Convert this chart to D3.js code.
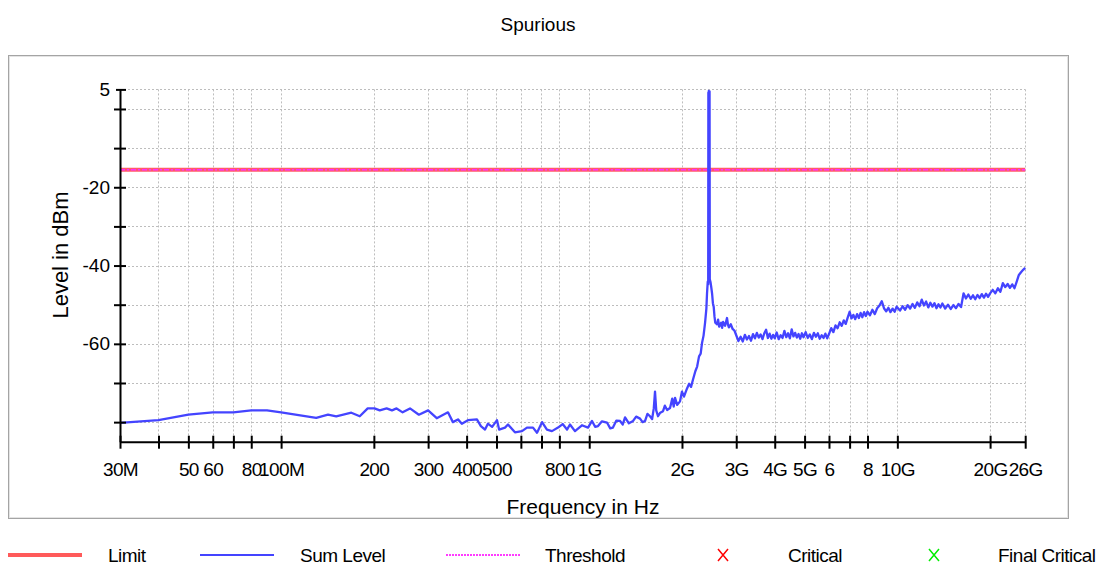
<!DOCTYPE html>
<html>
<head>
<meta charset="utf-8">
<script src="https://d3js.org/d3.v7.min.js"></script>
<style>
    body { margin: 0; background: #fff; }
    text { font-family: "Liberation Sans", Arial, sans-serif; fill: #000; }
</style>
</head>
<body>
<div id="chart"></div>
<script>
// x ticks (MHz) and their labels, empty label = tick only
const xTickValues = [30, 40, 50, 60, 70, 80, 100, 200, 300, 400, 500, 600, 700, 800, 1000,
    2000, 3000, 4000, 5000, 6000, 7000, 8000, 10000, 20000, 26000];
const xTickLabels = ["30M", "", "50", "60", "", "80", "100M", "200", "300", "400", "500", "", "", "800", "1G",
    "2G", "3G", "4G", "5G", "6", "", "8", "10G", "20G", "26G"];

const yTickValues = [5, 0, -10, -20, -30, -40, -50, -60, -70, -80];
const yTickLabels = ["5", "", "", "-20", "", "-40", "", "-60", "", ""];

const limitLine = [[30, -15.5], [26000, -15.5]];
const thresholdLine = [[30, -15.5], [26000, -15.5]];

// Sum Level trace: [MHz, dBm]
const sumLevel = [
    [30, -80.2], [40, -79.5], [50, -78.1], [60, -77.5], [70, -77.5], [80, -77.0], [90, -77.0], [100, -77.5],
    [130, -78.9], [142, -78.1], [151, -78.5], [169, -77.6], [180, -78.5], [191, -76.5], [201, -76.5], [209, -77.0],
    [220, -76.5], [229, -77.0], [237, -76.5], [248, -77.5], [262, -76.5], [280, -78.1], [300, -77.0], [320, -79.0],
    [348, -77.5], [361, -80.0], [375, -79.3], [386, -80.4], [404, -79.5], [432, -79.3], [445, -81.0], [459, -81.9],
    [469, -80.4], [484, -81.2], [502, -79.5], [510, -81.9], [533, -81.4], [545, -80.6], [574, -82.6], [605, -82.3],
    [628, -81.4], [657, -81.4], [677, -82.7], [703, -80.0], [729, -81.9], [757, -82.3], [792, -81.4], [820, -80.5],
    [847, -81.9], [866, -80.6], [899, -82.3], [947, -80.8], [991, -81.4], [1021, -79.7], [1045, -81.2], [1068, -81.0],
    [1100, -79.8], [1142, -80.1], [1170, -81.6], [1194, -81.4], [1225, -79.6], [1259, -79.7], [1285, -80.6], [1307, -78.8],
    [1345, -80.3], [1388, -79.7], [1420, -78.6], [1462, -79.1], [1490, -80.0], [1518, -79.7], [1545, -77.9], [1575, -78.5],
    [1600, -79.2], [1620, -76.5], [1635, -72.2], [1650, -77.0], [1672, -78.5], [1700, -77.6], [1736, -77.2], [1760, -75.8],
    [1790, -76.9], [1829, -76.4], [1860, -74.0], [1880, -76.0], [1899, -73.8], [1930, -75.6], [1971, -74.7], [2000, -72.2],
    [2030, -73.5], [2077, -71.4], [2110, -70.2], [2140, -71.0], [2172, -69.1], [2210, -67.0], [2240, -65.8], [2272, -63.2],
    [2300, -62.5], [2323, -59.8], [2350, -57.9], [2376, -54.7], [2400, -51.0], [2412, -47.0], [2425, -44.1], [2433, -44.8],
    [2436, 4.2], [2440, -30.0], [2444, 4.6], [2449, -25.0], [2453, 4.0], [2458, 4.5], [2462, -43.5],
    [2475, -44.2], [2490, -45.6], [2505, -47.2], [2520, -49.6], [2535, -50.5], [2550, -53.0], [2565, -54.6],
    [2600, -55.0], [2620, -53.8], [2640, -55.6], [2680, -54.6], [2700, -55.9], [2720, -54.4], [2760, -55.4], [2800, -53.4],
    [2820, -55.1], [2840, -55.8], [2880, -55.0], [2920, -56.2], [2960, -56.6], [3000, -57.8],
    [3050, -59.3], [3100, -58.2], [3150, -59.4], [3200, -57.7], [3250, -58.9], [3300, -58.0], [3350, -59.2], [3400, -57.5],
    [3450, -58.6], [3500, -57.2], [3550, -58.4], [3600, -57.6], [3650, -58.8], [3700, -57.3], [3750, -56.4], [3800, -58.5],
    [3850, -57.4], [3900, -58.7], [3950, -57.7], [4000, -58.6],
    [4060, -57.1], [4120, -58.8], [4180, -57.8], [4240, -58.5], [4300, -56.7], [4360, -58.3], [4420, -57.3], [4480, -58.6],
    [4540, -56.3], [4600, -58.1], [4660, -57.2], [4720, -58.4], [4780, -57.5], [4840, -58.7], [4900, -57.3], [4960, -58.3],
    [5040, -57.0], [5120, -58.5], [5200, -57.6], [5280, -58.8], [5360, -57.2], [5440, -58.2], [5520, -57.3], [5600, -58.7],
    [5680, -57.8], [5760, -58.5], [5840, -57.4], [5920, -58.6], [6000, -57.5],
    [6100, -56.0], [6200, -57.0], [6300, -55.3], [6400, -56.0], [6500, -54.5], [6600, -55.4], [6700, -54.0], [6800, -54.9],
    [6900, -53.3], [7000, -51.8], [7100, -53.5], [7200, -52.6], [7300, -53.7], [7400, -52.4], [7500, -53.4], [7600, -52.1],
    [7700, -53.2], [7800, -51.9], [7900, -52.9], [8000, -51.8],
    [8150, -52.7], [8300, -51.3], [8450, -52.4], [8600, -50.9], [8750, -50.2], [8900, -49.1], [9050, -50.9], [9200, -51.7],
    [9350, -50.8], [9500, -51.9], [9650, -51.0], [9800, -51.8], [9950, -50.5],
    [10200, -51.5], [10400, -50.4], [10600, -51.3], [10800, -50.1], [11000, -51.0], [11200, -49.8], [11400, -50.8], [11600, -49.4],
    [11800, -50.4], [12000, -48.7], [12200, -50.2], [12400, -49.2], [12600, -50.7], [12800, -49.5], [13000, -50.5], [13200, -49.6],
    [13400, -50.9], [13600, -49.9], [13800, -50.7], [14000, -49.7],
    [14300, -51.0], [14600, -50.0], [14900, -51.1], [15200, -50.1], [15500, -50.9], [15800, -49.8], [16100, -50.6], [16400, -47.1],
    [16700, -48.4], [17000, -47.4], [17300, -48.5], [17600, -47.6], [17900, -48.6], [18200, -47.5], [18500, -48.3], [18800, -47.3],
    [19100, -48.2], [19400, -47.2], [19700, -48.0], [20000, -47.1],
    [20400, -46.2], [20800, -47.1], [21200, -45.8], [21600, -46.7], [22000, -44.5], [22400, -45.5], [22800, -44.7], [23200, -45.7],
    [23600, -44.8], [24000, -45.8], [24400, -44.1], [24800, -42.4], [25200, -41.7], [25600, -41.1], [26000, -40.6]
];

const legendLabels = ["Limit", "Sum Level", "Threshold", "Critical", "Final Critical"];

const width = 1106, height = 568;

const svg = d3.select('#chart')
    .append('svg')
    .attr('width', width)
    .attr('height', height);

const x = d3.scaleLog().domain([30, 26000]).range([120, 1025.2]);
const y = d3.scaleLinear().domain([-85, 5]).range([441.7, 89.4]);

// title
svg.append("text")
    .attr("x", 538)
    .attr("y", 31)
    .attr("text-anchor", "middle")
    .style("font-size", "19px")
    .text("Spurious");

// frame
svg.append("defs").append("clipPath")
    .attr("id", "frameClip")
    .append("rect")
    .attr("x", 9).attr("y", 56)
    .attr("width", 1059).attr("height", 462);

svg.append("rect")
    .attr("x", 8.5).attr("y", 55.5)
    .attr("width", 1060).attr("height", 463)
    .attr("fill", "#fff")
    .attr("stroke", "#a4a4a4");
svg.append("rect")
    .attr("x", 9.5).attr("y", 56.5)
    .attr("width", 1058).attr("height", 461)
    .attr("fill", "none")
    .attr("stroke", "#e4e4e4");

const g = svg.append("g").attr("clip-path", "url(#frameClip)");

// grid
g.append("g").selectAll("line")
    .data(xTickValues.slice(1))
    .enter().append("line")
    .attr("x1", d => Math.round(x(d)) + 0.5)
    .attr("x2", d => Math.round(x(d)) + 0.5)
    .attr("y1", y(5))
    .attr("y2", y(-85))
    .attr("stroke", "#bdbdbd")
    .attr("stroke-dasharray", "2,2");

g.append("g").selectAll("line")
    .data(yTickValues)
    .enter().append("line")
    .attr("x1", x(30))
    .attr("x2", x(26000))
    .attr("y1", d => Math.round(y(d)) + 0.5)
    .attr("y2", d => Math.round(y(d)) + 0.5)
    .attr("stroke", "#bdbdbd")
    .attr("stroke-dasharray", "2,2");

const line = d3.line()
    .x(d => x(d[0]))
    .y(d => y(d[1]));

// limit + threshold
g.append("path")
    .datum(limitLine)
    .attr("d", line)
    .attr("fill", "none")
    .attr("stroke", "#ff5a6a")
    .attr("stroke-width", 4);

g.append("path")
    .datum(thresholdLine)
    .attr("d", line)
    .attr("fill", "none")
    .attr("stroke", "#ff30ff")
    .attr("stroke-width", 1.5)
    .attr("stroke-dasharray", "5,2,2,2");

// sum level trace
g.append("path")
    .datum(sumLevel)
    .attr("d", line)
    .attr("fill", "none")
    .attr("stroke", "#4444ff")
    .attr("stroke-width", 2.3)
    .attr("stroke-linejoin", "round");

// axes
const xAxis = d3.axisBottom(x)
    .tickValues(xTickValues)
    .tickFormat((d, i) => xTickLabels[i])
    .tickSize(7)
    .tickSizeOuter(0)
    .tickPadding(14);

const xg = g.append("g")
    .attr("transform", `translate(0, ${y(-85)})`)
    .call(xAxis);
xg.selectAll(".tick line").attr("y1", -6).attr("stroke-width", 2);
xg.select(".domain").attr("stroke-width", 2);
xg.selectAll("text").style("font-size", "19px").style("letter-spacing", "-0.6px");

const yAxis = d3.axisLeft(y)
    .tickValues(yTickValues)
    .tickFormat((d, i) => yTickLabels[i])
    .tickSize(6)
    .tickSizeOuter(0)
    .tickPadding(4);

const yg = g.append("g")
    .attr("transform", `translate(${x(30)}, 0)`)
    .call(yAxis);
yg.selectAll(".tick line")
    .attr("x1", 6)
    .attr("x2", d => d === 5 ? -4 : -6)
    .attr("stroke-width", 2);
yg.select(".domain").attr("stroke-width", 2);
yg.selectAll("text").style("font-size", "19px");

// axis titles
g.append("text")
    .attr("x", 583)
    .attr("y", 514)
    .attr("text-anchor", "middle")
    .style("font-size", "21px")
    .text("Frequency in Hz");

g.append("text")
    .attr("transform", "translate(68, 255) rotate(-90)")
    .attr("text-anchor", "middle")
    .style("font-size", "22px")
    .text("Level in dBm");

// legend
const legendY = 555;
const lg = svg.append("g");

lg.append("line").attr("x1", 8).attr("x2", 82).attr("y1", legendY).attr("y2", legendY)
    .attr("stroke", "#ff5a5a").attr("stroke-width", 4);
lg.append("line").attr("x1", 200).attr("x2", 274).attr("y1", legendY).attr("y2", legendY)
    .attr("stroke", "#4444ff").attr("stroke-width", 2);
lg.append("line").attr("x1", 446).attr("x2", 520).attr("y1", legendY).attr("y2", legendY)
    .attr("stroke", "#ff3cff").attr("stroke-width", 2).attr("stroke-dasharray", "2,1");

function drawCross(cx, color) {
    lg.append("path")
        .attr("d", `M${cx - 5},${legendY - 6}L${cx + 5},${legendY + 6}M${cx + 5},${legendY - 6}L${cx - 5},${legendY + 6}`)
        .attr("stroke", color)
        .attr("stroke-width", 1.5);
}
drawCross(723, "#ff0000");
drawCross(934, "#00ee00");

const legendX = [108, 300, 545, 788, 998];
lg.selectAll("text.legend")
    .data(legendLabels)
    .enter().append("text")
    .attr("class", "legend")
    .attr("x", (d, i) => legendX[i])
    .attr("y", legendY + 7)
    .style("font-size", "19px")
    .style("letter-spacing", "-0.5px")
    .text(d => d);
</script>
</body>
</html>
